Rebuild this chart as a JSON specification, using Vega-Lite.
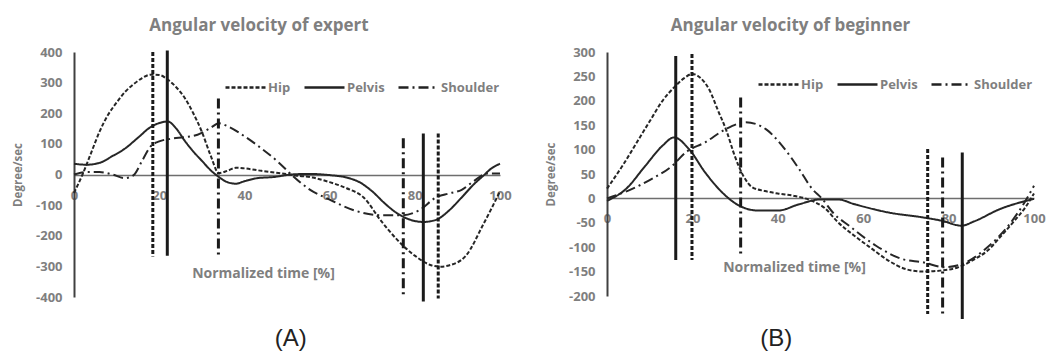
{
  "$schema": "https://vega.github.io/schema/vega-lite/v6.json",
  "background": "white",
  "padding": {"left": 12, "top": 17, "right": 4, "bottom": 2},
  "spacing": 33,
  "config": {
    "font": "Open Sans",
    "view": {"stroke": null},
    "axis": {"grid": false, "ticks": false, "labelOverlap": false, "labelFlush": false, "labelColor": "#7f7f7f", "labelFontWeight": "bold", "labelFontSize": 13, "titleColor": "#7f7f7f", "titleFontWeight": "bold", "labelFont": "Open Sans", "titleFont": "Open Sans"},
    "title": {"color": "#7f7f7f", "font": "Open Sans", "fontWeight": "bold", "fontSize": 17},
    "legend": {"title": null, "direction": "horizontal", "orient": "none", "gridAlign": "none", "symbolType": "stroke", "symbolSize": 1600, "symbolStrokeWidth": 2.5, "symbolStrokeColor": "#222222", "labelColor": "#7f7f7f", "labelFont": "Open Sans", "labelFontWeight": "bold", "labelFontSize": 13, "columnPadding": 8, "labelOffset": 1}
  },
  "datasets": {
    "expert": [
      {"t": 0, "v": -60, "part": "Hip"}, {"t": 2, "v": 0, "part": "Hip"}, {"t": 4, "v": 70, "part": "Hip"}, {"t": 6, "v": 140, "part": "Hip"}, {"t": 8, "v": 195, "part": "Hip"}, {"t": 10, "v": 235, "part": "Hip"}, {"t": 12, "v": 270, "part": "Hip"}, {"t": 14, "v": 295, "part": "Hip"}, {"t": 16, "v": 315, "part": "Hip"}, {"t": 18, "v": 326, "part": "Hip"}, {"t": 20, "v": 325, "part": "Hip"}, {"t": 22, "v": 310, "part": "Hip"}, {"t": 24, "v": 285, "part": "Hip"}, {"t": 26, "v": 250, "part": "Hip"}, {"t": 28, "v": 200, "part": "Hip"}, {"t": 30, "v": 140, "part": "Hip"}, {"t": 32, "v": 65, "part": "Hip"}, {"t": 34, "v": 5, "part": "Hip"}, {"t": 36, "v": 12, "part": "Hip"}, {"t": 38, "v": 22, "part": "Hip"}, {"t": 40, "v": 20, "part": "Hip"}, {"t": 44, "v": 12, "part": "Hip"}, {"t": 48, "v": 5, "part": "Hip"}, {"t": 52, "v": -3, "part": "Hip"}, {"t": 56, "v": -10, "part": "Hip"}, {"t": 60, "v": -25, "part": "Hip"}, {"t": 64, "v": -45, "part": "Hip"}, {"t": 68, "v": -75, "part": "Hip"}, {"t": 72, "v": -150, "part": "Hip"}, {"t": 76, "v": -215, "part": "Hip"}, {"t": 80, "v": -265, "part": "Hip"}, {"t": 84, "v": -297, "part": "Hip"}, {"t": 86, "v": -301, "part": "Hip"}, {"t": 88, "v": -297, "part": "Hip"}, {"t": 92, "v": -265, "part": "Hip"}, {"t": 96, "v": -165, "part": "Hip"}, {"t": 100, "v": -55, "part": "Hip"},
      {"t": 0, "v": 35, "part": "Pelvis"}, {"t": 3, "v": 32, "part": "Pelvis"}, {"t": 6, "v": 38, "part": "Pelvis"}, {"t": 9, "v": 60, "part": "Pelvis"}, {"t": 12, "v": 85, "part": "Pelvis"}, {"t": 15, "v": 120, "part": "Pelvis"}, {"t": 18, "v": 155, "part": "Pelvis"}, {"t": 20, "v": 168, "part": "Pelvis"}, {"t": 22, "v": 173, "part": "Pelvis"}, {"t": 24, "v": 150, "part": "Pelvis"}, {"t": 26, "v": 110, "part": "Pelvis"}, {"t": 28, "v": 75, "part": "Pelvis"}, {"t": 30, "v": 45, "part": "Pelvis"}, {"t": 32, "v": 15, "part": "Pelvis"}, {"t": 34, "v": -8, "part": "Pelvis"}, {"t": 36, "v": -25, "part": "Pelvis"}, {"t": 38, "v": -30, "part": "Pelvis"}, {"t": 40, "v": -22, "part": "Pelvis"}, {"t": 43, "v": -12, "part": "Pelvis"}, {"t": 47, "v": -8, "part": "Pelvis"}, {"t": 51, "v": 0, "part": "Pelvis"}, {"t": 55, "v": 2, "part": "Pelvis"}, {"t": 60, "v": -2, "part": "Pelvis"}, {"t": 64, "v": -10, "part": "Pelvis"}, {"t": 67, "v": -25, "part": "Pelvis"}, {"t": 70, "v": -55, "part": "Pelvis"}, {"t": 73, "v": -95, "part": "Pelvis"}, {"t": 76, "v": -128, "part": "Pelvis"}, {"t": 79, "v": -148, "part": "Pelvis"}, {"t": 82, "v": -155, "part": "Pelvis"}, {"t": 85, "v": -148, "part": "Pelvis"}, {"t": 88, "v": -118, "part": "Pelvis"}, {"t": 91, "v": -75, "part": "Pelvis"}, {"t": 94, "v": -30, "part": "Pelvis"}, {"t": 96, "v": -5, "part": "Pelvis"}, {"t": 98, "v": 20, "part": "Pelvis"}, {"t": 100, "v": 35, "part": "Pelvis"},
      {"t": 0, "v": 0, "part": "Shoulder"}, {"t": 3, "v": 8, "part": "Shoulder"}, {"t": 6, "v": 8, "part": "Shoulder"}, {"t": 9, "v": 0, "part": "Shoulder"}, {"t": 12, "v": -12, "part": "Shoulder"}, {"t": 14, "v": -2, "part": "Shoulder"}, {"t": 16, "v": 45, "part": "Shoulder"}, {"t": 18, "v": 92, "part": "Shoulder"}, {"t": 20, "v": 108, "part": "Shoulder"}, {"t": 23, "v": 117, "part": "Shoulder"}, {"t": 26, "v": 122, "part": "Shoulder"}, {"t": 29, "v": 130, "part": "Shoulder"}, {"t": 32, "v": 152, "part": "Shoulder"}, {"t": 34, "v": 167, "part": "Shoulder"}, {"t": 36, "v": 158, "part": "Shoulder"}, {"t": 40, "v": 125, "part": "Shoulder"}, {"t": 44, "v": 85, "part": "Shoulder"}, {"t": 48, "v": 40, "part": "Shoulder"}, {"t": 51, "v": 0, "part": "Shoulder"}, {"t": 55, "v": -46, "part": "Shoulder"}, {"t": 60, "v": -82, "part": "Shoulder"}, {"t": 66, "v": -118, "part": "Shoulder"}, {"t": 72, "v": -133, "part": "Shoulder"}, {"t": 77, "v": -133, "part": "Shoulder"}, {"t": 81, "v": -117, "part": "Shoulder"}, {"t": 85, "v": -75, "part": "Shoulder"}, {"t": 88, "v": -62, "part": "Shoulder"}, {"t": 91, "v": -50, "part": "Shoulder"}, {"t": 94, "v": -20, "part": "Shoulder"}, {"t": 97, "v": 3, "part": "Shoulder"}, {"t": 100, "v": 3, "part": "Shoulder"}
    ],
    "expertMarks": [
      {"t": 18.5, "top": 400, "bottom": -268, "part": "Hip"},
      {"t": 21.9, "top": 405, "bottom": -265, "part": "Pelvis"},
      {"t": 33.9, "top": 248, "bottom": -268, "part": "Shoulder"},
      {"t": 77.3, "top": 118, "bottom": -395, "part": "Shoulder"},
      {"t": 82, "top": 134, "bottom": -415, "part": "Pelvis"},
      {"t": 85.5, "top": 134, "bottom": -405, "part": "Hip"}
    ],
    "beginner": [
      {"t": 0, "v": 20, "part": "Hip"}, {"t": 4, "v": 72, "part": "Hip"}, {"t": 7, "v": 115, "part": "Hip"}, {"t": 10, "v": 158, "part": "Hip"}, {"t": 13, "v": 200, "part": "Hip"}, {"t": 16, "v": 230, "part": "Hip"}, {"t": 18, "v": 246, "part": "Hip"}, {"t": 20, "v": 255, "part": "Hip"}, {"t": 22, "v": 246, "part": "Hip"}, {"t": 24, "v": 222, "part": "Hip"}, {"t": 26, "v": 180, "part": "Hip"}, {"t": 28, "v": 138, "part": "Hip"}, {"t": 30, "v": 85, "part": "Hip"}, {"t": 32, "v": 45, "part": "Hip"}, {"t": 34, "v": 23, "part": "Hip"}, {"t": 37, "v": 15, "part": "Hip"}, {"t": 40, "v": 10, "part": "Hip"}, {"t": 44, "v": 5, "part": "Hip"}, {"t": 48, "v": -5, "part": "Hip"}, {"t": 51, "v": -20, "part": "Hip"}, {"t": 54, "v": -48, "part": "Hip"}, {"t": 58, "v": -77, "part": "Hip"}, {"t": 62, "v": -103, "part": "Hip"}, {"t": 66, "v": -128, "part": "Hip"}, {"t": 70, "v": -145, "part": "Hip"}, {"t": 74, "v": -150, "part": "Hip"}, {"t": 78, "v": -148, "part": "Hip"}, {"t": 82, "v": -142, "part": "Hip"}, {"t": 86, "v": -125, "part": "Hip"}, {"t": 89, "v": -108, "part": "Hip"}, {"t": 92, "v": -80, "part": "Hip"}, {"t": 95, "v": -50, "part": "Hip"}, {"t": 98, "v": -18, "part": "Hip"}, {"t": 100, "v": 10, "part": "Hip"},
      {"t": 0, "v": -5, "part": "Pelvis"}, {"t": 4.4, "v": 19, "part": "Pelvis"}, {"t": 9, "v": 67, "part": "Pelvis"}, {"t": 13, "v": 108, "part": "Pelvis"}, {"t": 15.7, "v": 125, "part": "Pelvis"}, {"t": 19.2, "v": 101, "part": "Pelvis"}, {"t": 23, "v": 53, "part": "Pelvis"}, {"t": 27, "v": 12, "part": "Pelvis"}, {"t": 31, "v": -15, "part": "Pelvis"}, {"t": 35.5, "v": -25, "part": "Pelvis"}, {"t": 40, "v": -25, "part": "Pelvis"}, {"t": 45, "v": -12, "part": "Pelvis"}, {"t": 50, "v": -2, "part": "Pelvis"}, {"t": 54, "v": -2, "part": "Pelvis"}, {"t": 58, "v": -12, "part": "Pelvis"}, {"t": 66, "v": -29, "part": "Pelvis"}, {"t": 74, "v": -39, "part": "Pelvis"}, {"t": 78.5, "v": -46, "part": "Pelvis"}, {"t": 83, "v": -56, "part": "Pelvis"}, {"t": 86, "v": -47, "part": "Pelvis"}, {"t": 92, "v": -22, "part": "Pelvis"}, {"t": 100, "v": -1, "part": "Pelvis"},
      {"t": 0, "v": 0, "part": "Shoulder"}, {"t": 5, "v": 16, "part": "Shoulder"}, {"t": 10.5, "v": 40, "part": "Shoulder"}, {"t": 15.3, "v": 67, "part": "Shoulder"}, {"t": 18.4, "v": 94, "part": "Shoulder"}, {"t": 23, "v": 115, "part": "Shoulder"}, {"t": 27.8, "v": 142, "part": "Shoulder"}, {"t": 32.5, "v": 156, "part": "Shoulder"}, {"t": 37.2, "v": 142, "part": "Shoulder"}, {"t": 41, "v": 108, "part": "Shoulder"}, {"t": 45, "v": 60, "part": "Shoulder"}, {"t": 48, "v": 20, "part": "Shoulder"}, {"t": 50.4, "v": -1, "part": "Shoulder"}, {"t": 53, "v": -30, "part": "Shoulder"}, {"t": 56.7, "v": -56, "part": "Shoulder"}, {"t": 63, "v": -97, "part": "Shoulder"}, {"t": 69, "v": -124, "part": "Shoulder"}, {"t": 74, "v": -131, "part": "Shoulder"}, {"t": 79, "v": -141, "part": "Shoulder"}, {"t": 83, "v": -135, "part": "Shoulder"}, {"t": 89.5, "v": -97, "part": "Shoulder"}, {"t": 94, "v": -56, "part": "Shoulder"}, {"t": 97.3, "v": -15, "part": "Shoulder"}, {"t": 100, "v": 26, "part": "Shoulder"}
    ],
    "beginnerMarks": [
      {"t": 16.1, "top": 292, "bottom": -126, "part": "Pelvis"},
      {"t": 19.9, "top": 296, "bottom": -126, "part": "Hip"},
      {"t": 31.3, "top": 207, "bottom": -114, "part": "Shoulder"},
      {"t": 75.1, "top": 101, "bottom": -237, "part": "Hip"},
      {"t": 78.6, "top": 84, "bottom": -237, "part": "Shoulder"},
      {"t": 83.2, "top": 94, "bottom": -247, "part": "Pelvis"}
    ]
  },
  "resolve": {"scale": {"strokeDash": "independent"}, "legend": {"strokeDash": "independent"}},
  "hconcat": [
    {
      "title": {"text": "(A)", "orient": "bottom", "anchor": "middle", "dx": 29, "font": "Liberation Sans", "fontWeight": "normal", "fontSize": 24, "color": "#222222", "offset": 23},
      "resolve": {"scale": {"strokeDash": "independent"}, "legend": {"strokeDash": "independent"}},
      "vconcat": [
        {
          "width": 426,
          "height": 245,
          "title": {"text": "Angular velocity of expert", "anchor": "middle", "dx": -28, "offset": 11},
          "layer": [
            {
              "data": {"name": "expert"},
              "mark": {"type": "line", "interpolate": "monotone", "color": "#262626", "strokeWidth": 2},
              "encoding": {
                "x": {"field": "t", "type": "quantitative", "scale": {"domain": [0, 100], "nice": false}, "axis": {"values": [0, 20, 40, 60, 80, 100], "labelOverlap": false, "domain": true, "domainColor": "#6e6e6e", "domainWidth": 1.5, "offset": -122, "labelPadding": 14, "title": "Normalized time [%]", "titleFontSize": 14, "titlePadding": 64, "titleX": 189}},
                "y": {"field": "v", "type": "quantitative", "scale": {"domain": [-400, 400], "nice": false}, "axis": {"values": [-400, -300, -200, -100, 0, 100, 200, 300, 400], "labelOverlap": false, "labelExpr": "toString(datum.value)", "domain": true, "domainColor": "#404040", "domainWidth": 2, "labelPadding": 12, "title": "Degree/sec", "titleFontSize": 11.5, "titlePadding": 12}},
                "strokeDash": {"field": "part", "type": "nominal", "scale": {"domain": ["Hip", "Pelvis", "Shoulder"], "range": [[4, 2], [1, 0], [10, 4, 2, 4]]}, "legend": {"orient": "none", "legendX": 150, "legendY": 14}}
              }
            },
            {
              "data": {"name": "expertMarks"},
              "mark": {"type": "rule", "color": "#1a1a1a", "strokeWidth": 3},
              "encoding": {
                "x": {"field": "t", "type": "quantitative", "axis": {"values": [0, 20, 40, 60, 80, 100], "labelOverlap": false, "domain": true, "domainColor": "#6e6e6e", "domainWidth": 1.5, "offset": -122, "labelPadding": 14, "title": "Normalized time [%]", "titleFontSize": 14, "titlePadding": 64, "titleX": 189}},
                "y": {"field": "top", "type": "quantitative", "axis": {"values": [-400, -300, -200, -100, 0, 100, 200, 300, 400], "labelOverlap": false, "labelExpr": "toString(datum.value)", "domain": true, "domainColor": "#404040", "domainWidth": 2, "labelPadding": 12, "title": "Degree/sec", "titleFontSize": 11.5, "titlePadding": 12}},
                "y2": {"field": "bottom"},
                "strokeDash": {"field": "part", "type": "nominal"}
              }
            }
          ]
        }
      ]
    },
    {
      "title": {"text": "(B)", "orient": "bottom", "anchor": "middle", "dx": -19, "font": "Liberation Sans", "fontWeight": "normal", "fontSize": 24, "color": "#222222", "offset": 7},
      "resolve": {"scale": {"strokeDash": "independent"}, "legend": {"strokeDash": "independent"}},
      "vconcat": [
        {
          "width": 427,
          "height": 244,
          "title": {"text": "Angular velocity of beginner", "anchor": "middle", "dx": -30, "offset": 11},
          "layer": [
            {
              "data": {"name": "beginner"},
              "mark": {"type": "line", "interpolate": "monotone", "color": "#262626", "strokeWidth": 2},
              "encoding": {
                "x": {"field": "t", "type": "quantitative", "scale": {"domain": [0, 100], "nice": false}, "axis": {"values": [0, 20, 40, 60, 80, 100], "labelOverlap": false, "domain": true, "domainColor": "#6e6e6e", "domainWidth": 1.5, "offset": -98, "labelPadding": 14, "title": "Normalized time [%]", "titleFontSize": 14, "titlePadding": 35, "titleX": 187}},
                "y": {"field": "v", "type": "quantitative", "scale": {"domain": [-200, 300], "nice": false}, "axis": {"values": [-200, -150, -100, -50, 0, 50, 100, 150, 200, 250, 300], "labelOverlap": false, "labelExpr": "toString(datum.value)", "domain": true, "domainColor": "#404040", "domainWidth": 2, "labelPadding": 12, "title": "Degree/sec", "titleFontSize": 11.5, "titlePadding": 12}},
                "strokeDash": {"field": "part", "type": "nominal", "scale": {"domain": ["Hip", "Pelvis", "Shoulder"], "range": [[4, 2], [1, 0], [10, 4, 2, 4]]}, "legend": {"orient": "none", "legendX": 150, "legendY": 11}}
              }
            },
            {
              "data": {"name": "beginnerMarks"},
              "mark": {"type": "rule", "color": "#1a1a1a", "strokeWidth": 3},
              "encoding": {
                "x": {"field": "t", "type": "quantitative", "axis": {"values": [0, 20, 40, 60, 80, 100], "labelOverlap": false, "domain": true, "domainColor": "#6e6e6e", "domainWidth": 1.5, "offset": -98, "labelPadding": 14, "title": "Normalized time [%]", "titleFontSize": 14, "titlePadding": 35, "titleX": 187}},
                "y": {"field": "top", "type": "quantitative", "axis": {"values": [-200, -150, -100, -50, 0, 50, 100, 150, 200, 250, 300], "labelOverlap": false, "labelExpr": "toString(datum.value)", "domain": true, "domainColor": "#404040", "domainWidth": 2, "labelPadding": 12, "title": "Degree/sec", "titleFontSize": 11.5, "titlePadding": 12}},
                "y2": {"field": "bottom"},
                "strokeDash": {"field": "part", "type": "nominal"}
              }
            }
          ]
        }
      ]
    }
  ]
}
